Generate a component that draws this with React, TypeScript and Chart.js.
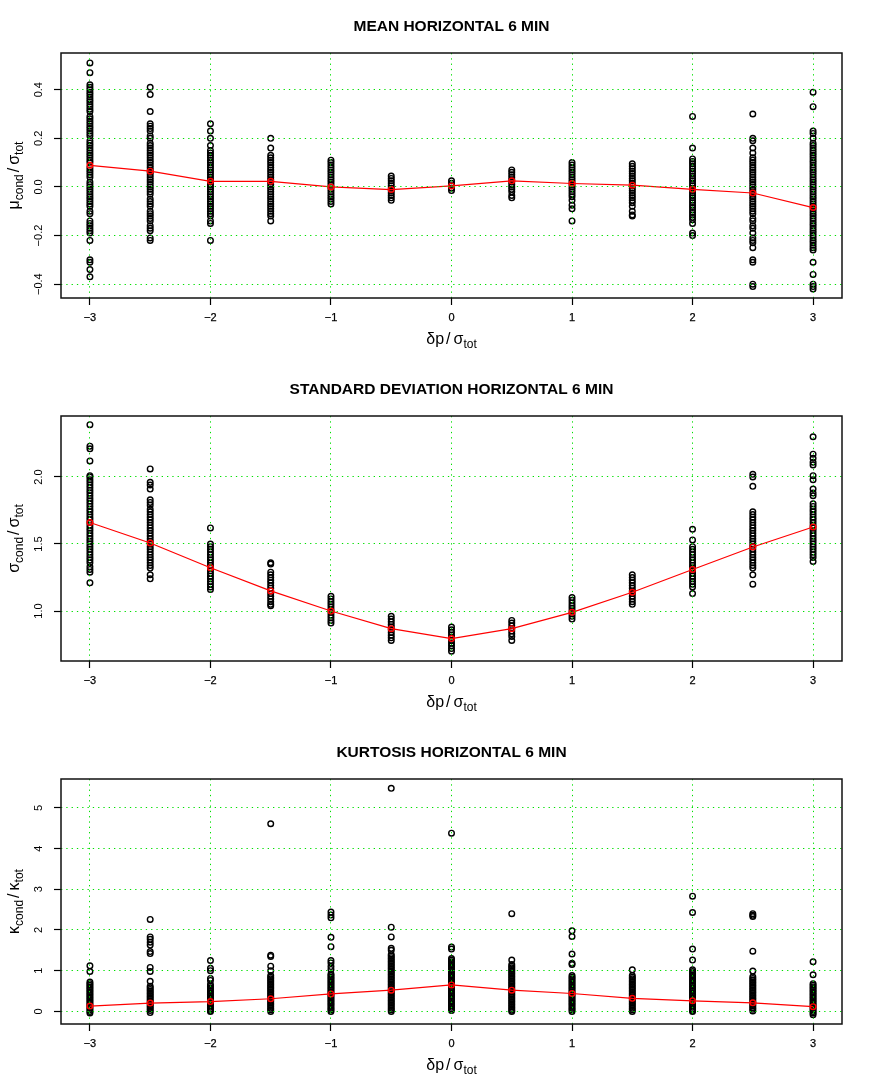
import React, { useEffect, useRef } from "react";
import { Chart, registerables } from "chart.js";

Chart.register(...registerables);

// ---------- shared axis data ----------
const xPositions = [-3, -2.5, -2, -1.5, -1, -0.5, 0, 0.5, 1, 1.5, 2, 2.5, 3];
const xTickValues = [-3, -2, -1, 0, 1, 2, 3];
const xTickLabels = ["\u22123", "\u22122", "\u22121", "0", "1", "2", "3"];

// ---------- panel 1: mean ----------
const meanCols: number[][] = [
  [0.51, 0.47, 0.42, 0.41, 0.4, 0.39, 0.38, 0.37, 0.36, 0.35, 0.34, 0.33, 0.32, 0.31, 0.29, 0.28, 0.27, 0.26, 0.25, 0.24, 0.23, 0.22, 0.21, 0.19, 0.18, 0.17, 0.16, 0.15, 0.14, 0.13, 0.12, 0.11, 0.1, 0.08, 0.07, 0.06, 0.05, 0.04, 0.02, 0.01, 0.0, -0.01, -0.02, -0.03, -0.04, -0.05, -0.06, -0.07, -0.08, -0.1, -0.11, -0.14, -0.15, -0.16, -0.17, -0.18, -0.19, -0.22, -0.3, -0.31, -0.34, -0.37],
  [0.41, 0.38, 0.31, 0.26, 0.25, 0.24, 0.23, 0.21, 0.2, 0.18, 0.17, 0.16, 0.15, 0.14, 0.13, 0.12, 0.11, 0.1, 0.09, 0.08, 0.07, 0.06, 0.05, 0.04, 0.03, 0.02, 0.01, 0.0, -0.01, -0.02, -0.03, -0.05, -0.06, -0.07, -0.08, -0.1, -0.11, -0.12, -0.13, -0.14, -0.16, -0.17, -0.18, -0.21, -0.22],
  [0.26, 0.23, 0.2, 0.17, 0.15, 0.14, 0.13, 0.12, 0.11, 0.1, 0.09, 0.08, 0.07, 0.06, 0.05, 0.04, 0.03, 0.02, 0.01, 0.0, -0.01, -0.02, -0.03, -0.04, -0.05, -0.06, -0.07, -0.08, -0.09, -0.1, -0.11, -0.12, -0.14, -0.15, -0.22],
  [0.2, 0.16, 0.13, 0.12, 0.11, 0.1, 0.09, 0.08, 0.07, 0.06, 0.05, 0.04, 0.03, 0.02, 0.01, 0.0, -0.01, -0.02, -0.03, -0.04, -0.05, -0.06, -0.07, -0.08, -0.09, -0.1, -0.11, -0.12, -0.14],
  [0.11, 0.1, 0.09, 0.08, 0.07, 0.06, 0.05, 0.04, 0.03, 0.02, 0.01, 0.0, -0.01, -0.02, -0.03, -0.04, -0.05, -0.06, -0.07],
  [0.045, 0.035, 0.025, 0.015, 0.005, -0.005, -0.015, -0.025, -0.035, -0.045, -0.055],
  [0.025, 0.015, 0.005, -0.005, -0.015],
  [0.07, 0.06, 0.05, 0.04, 0.03, 0.02, 0.01, 0.0, -0.01, -0.02, -0.035, -0.045],
  [0.1, 0.09, 0.08, 0.07, 0.06, 0.05, 0.04, 0.03, 0.02, 0.01, 0.0, -0.01, -0.02, -0.03, -0.04, -0.055, -0.075, -0.09, -0.14],
  [0.095, 0.085, 0.075, 0.065, 0.055, 0.045, 0.035, 0.025, 0.015, 0.005, -0.005, -0.015, -0.025, -0.035, -0.045, -0.055, -0.065, -0.08, -0.1, -0.115, -0.12],
  [0.29, 0.16, 0.115, 0.105, 0.095, 0.085, 0.075, 0.065, 0.055, 0.045, 0.035, 0.025, 0.015, 0.005, -0.005, -0.015, -0.025, -0.035, -0.045, -0.055, -0.065, -0.075, -0.085, -0.095, -0.105, -0.115, -0.125, -0.135, -0.15, -0.19, -0.2],
  [0.3, 0.2, 0.19, 0.16, 0.14, 0.12, 0.11, 0.1, 0.09, 0.08, 0.07, 0.06, 0.05, 0.04, 0.03, 0.02, 0.01, 0.0, -0.01, -0.02, -0.03, -0.04, -0.05, -0.06, -0.07, -0.08, -0.09, -0.1, -0.11, -0.13, -0.14, -0.16, -0.17, -0.19, -0.21, -0.22, -0.23, -0.25, -0.3, -0.31, -0.4, -0.41],
  [0.39, 0.33, 0.23, 0.22, 0.2, 0.18, 0.17, 0.16, 0.15, 0.14, 0.13, 0.12, 0.11, 0.1, 0.09, 0.08, 0.07, 0.06, 0.05, 0.04, 0.03, 0.02, 0.01, 0.0, -0.01, -0.02, -0.03, -0.04, -0.05, -0.06, -0.07, -0.08, -0.09, -0.1, -0.11, -0.12, -0.13, -0.14, -0.15, -0.16, -0.17, -0.18, -0.19, -0.2, -0.21, -0.22, -0.23, -0.24, -0.25, -0.26, -0.31, -0.36, -0.4, -0.41, -0.42],
];
const meanAvg = [0.089, 0.065, 0.023, 0.023, 0.0, -0.011, 0.004, 0.025, 0.014, 0.007, -0.01, -0.025, -0.085];
const meanYTicks = [-0.4, -0.2, 0, 0.2, 0.4];
const meanYLabels = ["\u22120.4", "\u22120.2", "0.0", "0.2", "0.4"];

// ---------- panel 2: standard deviation ----------
const sdCols: number[][] = [
  [2.39, 2.23, 2.21, 2.12, 2.01, 2.0, 1.98, 1.96, 1.94, 1.92, 1.9, 1.88, 1.86, 1.84, 1.82, 1.8, 1.78, 1.76, 1.74, 1.72, 1.7, 1.68, 1.66, 1.64, 1.62, 1.6, 1.58, 1.56, 1.54, 1.52, 1.5, 1.48, 1.46, 1.44, 1.42, 1.4, 1.38, 1.36, 1.33, 1.31, 1.29, 1.21],
  [2.06, 1.96, 1.94, 1.91, 1.83, 1.81, 1.79, 1.76, 1.74, 1.72, 1.7, 1.68, 1.66, 1.64, 1.62, 1.6, 1.58, 1.56, 1.54, 1.52, 1.5, 1.48, 1.46, 1.44, 1.42, 1.4, 1.38, 1.36, 1.34, 1.32, 1.27, 1.24],
  [1.62, 1.5, 1.48, 1.46, 1.44, 1.42, 1.4, 1.38, 1.36, 1.34, 1.32, 1.3, 1.28, 1.26, 1.24, 1.22, 1.2, 1.18, 1.16],
  [1.36, 1.35, 1.29, 1.27, 1.25, 1.23, 1.21, 1.19, 1.17, 1.15, 1.13, 1.11, 1.09, 1.07, 1.05, 1.04],
  [1.11, 1.09, 1.07, 1.05, 1.03, 1.01, 0.99, 0.97, 0.95, 0.93, 0.91],
  [0.96, 0.94, 0.92, 0.9, 0.88, 0.86, 0.84, 0.82, 0.8, 0.78],
  [0.88, 0.86, 0.84, 0.82, 0.8, 0.78, 0.76, 0.74, 0.72, 0.7],
  [0.93, 0.91, 0.89, 0.87, 0.85, 0.83, 0.81, 0.78],
  [1.1, 1.08, 1.06, 1.04, 1.02, 1.0, 0.98, 0.96, 0.94],
  [1.27, 1.25, 1.23, 1.21, 1.19, 1.17, 1.15, 1.13, 1.11, 1.09, 1.07, 1.05],
  [1.61, 1.53, 1.48, 1.46, 1.44, 1.42, 1.4, 1.38, 1.36, 1.34, 1.32, 1.3, 1.28, 1.26, 1.24, 1.22, 1.2, 1.18, 1.13],
  [2.02, 2.0, 1.93, 1.74, 1.72, 1.7, 1.68, 1.66, 1.64, 1.62, 1.6, 1.58, 1.56, 1.54, 1.52, 1.5, 1.48, 1.46, 1.44, 1.42, 1.4, 1.38, 1.36, 1.34, 1.32, 1.27, 1.2],
  [2.3, 2.17, 2.14, 2.11, 2.09, 2.01, 1.98, 1.91, 1.88, 1.86, 1.8, 1.78, 1.76, 1.74, 1.72, 1.7, 1.68, 1.66, 1.64, 1.62, 1.6, 1.58, 1.56, 1.54, 1.52, 1.5, 1.48, 1.46, 1.44, 1.42, 1.4, 1.37],
];
const sdAvg = [1.66, 1.507, 1.323, 1.15, 1.0, 0.868, 0.794, 0.868, 0.99, 1.14, 1.31, 1.478, 1.627];
const sdYTicks = [1.0, 1.5, 2.0];
const sdYLabels = ["1.0", "1.5", "2.0"];

// ---------- panel 3: kurtosis ----------
const kurtCols: number[][] = [
  [1.12, 0.98, 0.72, 0.68, 0.64, 0.6, 0.56, 0.52, 0.48, 0.44, 0.4, 0.36, 0.32, 0.28, 0.24, 0.2, 0.16, 0.12, 0.08, 0.04, 0.0, -0.04],
  [2.26, 1.83, 1.77, 1.7, 1.63, 1.47, 1.42, 1.08, 0.98, 0.74, 0.62, 0.58, 0.54, 0.5, 0.46, 0.42, 0.38, 0.34, 0.3, 0.26, 0.22, 0.18, 0.14, 0.1, 0.06, 0.02, -0.03],
  [1.25, 1.06, 1.0, 0.81, 0.76, 0.66, 0.62, 0.58, 0.54, 0.5, 0.46, 0.42, 0.38, 0.34, 0.3, 0.26, 0.22, 0.18, 0.14, 0.1, 0.06, 0.02, 0.0],
  [4.61, 1.38, 1.35, 1.11, 1.0, 0.88, 0.84, 0.8, 0.76, 0.72, 0.68, 0.64, 0.6, 0.56, 0.52, 0.48, 0.44, 0.4, 0.36, 0.32, 0.28, 0.24, 0.2, 0.16, 0.12, 0.08, 0.04, 0.0],
  [2.44, 2.37, 2.3, 1.82, 1.59, 1.25, 1.19, 1.1, 1.03, 0.92, 0.88, 0.84, 0.8, 0.76, 0.72, 0.68, 0.64, 0.6, 0.56, 0.52, 0.48, 0.44, 0.4, 0.36, 0.32, 0.28, 0.24, 0.2, 0.16, 0.12, 0.08, 0.04, 0.0],
  [5.48, 2.07, 1.83, 1.55, 1.5, 1.4, 1.36, 1.32, 1.28, 1.24, 1.2, 1.16, 1.12, 1.08, 1.04, 1.0, 0.96, 0.92, 0.88, 0.84, 0.8, 0.76, 0.72, 0.68, 0.64, 0.6, 0.56, 0.52, 0.48, 0.44, 0.4, 0.36, 0.32, 0.28, 0.24, 0.2, 0.16, 0.12, 0.08, 0.04, 0.0],
  [4.38, 1.58, 1.53, 1.3, 1.26, 1.22, 1.18, 1.14, 1.1, 1.06, 1.02, 0.98, 0.94, 0.9, 0.86, 0.82, 0.78, 0.74, 0.7, 0.66, 0.62, 0.58, 0.54, 0.5, 0.46, 0.42, 0.38, 0.34, 0.3, 0.26, 0.22, 0.18, 0.14, 0.1, 0.06, 0.02],
  [2.4, 1.26, 1.15, 1.11, 1.07, 1.03, 0.99, 0.95, 0.91, 0.87, 0.83, 0.79, 0.75, 0.71, 0.67, 0.63, 0.59, 0.55, 0.51, 0.47, 0.43, 0.39, 0.35, 0.31, 0.27, 0.23, 0.19, 0.15, 0.11, 0.07, 0.03, 0.0],
  [1.98, 1.84, 1.41, 1.18, 1.15, 0.88, 0.84, 0.8, 0.76, 0.72, 0.68, 0.64, 0.6, 0.56, 0.52, 0.48, 0.44, 0.4, 0.36, 0.32, 0.28, 0.24, 0.2, 0.16, 0.12, 0.08, 0.04, 0.0],
  [1.02, 0.88, 0.84, 0.8, 0.76, 0.72, 0.68, 0.64, 0.6, 0.56, 0.52, 0.48, 0.44, 0.4, 0.36, 0.32, 0.28, 0.24, 0.2, 0.16, 0.12, 0.08, 0.04, 0.0],
  [2.83, 2.43, 1.53, 1.26, 1.02, 0.98, 0.94, 0.9, 0.86, 0.82, 0.78, 0.74, 0.7, 0.66, 0.62, 0.58, 0.54, 0.5, 0.46, 0.42, 0.38, 0.34, 0.3, 0.26, 0.22, 0.18, 0.14, 0.1, 0.06, 0.02, 0.0],
  [2.4, 2.36, 2.33, 1.48, 0.99, 0.85, 0.81, 0.77, 0.73, 0.69, 0.65, 0.61, 0.57, 0.53, 0.49, 0.45, 0.41, 0.37, 0.33, 0.29, 0.25, 0.21, 0.17, 0.13, 0.09, 0.05, 0.01],
  [1.22, 0.9, 0.68, 0.64, 0.6, 0.56, 0.52, 0.48, 0.44, 0.4, 0.36, 0.32, 0.28, 0.24, 0.2, 0.16, 0.12, 0.08, 0.04, 0.0, -0.04, -0.08],
];
const kurtAvg = [0.13, 0.205, 0.24, 0.31, 0.43, 0.52, 0.65, 0.52, 0.44, 0.32, 0.26, 0.21, 0.115];
const kurtYTicks = [0, 1, 2, 3, 4, 5];
const kurtYLabels = ["0", "1", "2", "3", "4", "5"];

// ---------- text ----------
type Part = { t: string; sub?: boolean; gapL?: number; gapR?: number };
const xTitleParts: Part[] = [{ t: "\u03b4p" }, { t: "/", gapL: 2, gapR: 3 }, { t: "\u03c3" }, { t: "tot", sub: true }];

interface PanelCfg {
  title: string;
  yTitle: Part[];
  cols: number[][];
  avg: number[];
  yMin: number;
  yMax: number;
  yTicks: number[];
  yLabels: string[];
}

const panels: PanelCfg[] = [
  {
    title: "MEAN HORIZONTAL 6 MIN",
    yTitle: [{ t: "\u03bc" }, { t: "cond", sub: true }, { t: "/", gapL: 2, gapR: 3 }, { t: "\u03c3" }, { t: "tot", sub: true }],
    cols: meanCols, avg: meanAvg, yMin: -0.457, yMax: 0.551, yTicks: meanYTicks, yLabels: meanYLabels,
  },
  {
    title: "STANDARD DEVIATION HORIZONTAL 6 MIN",
    yTitle: [{ t: "\u03c3" }, { t: "cond", sub: true }, { t: "/", gapL: 2, gapR: 3 }, { t: "\u03c3" }, { t: "tot", sub: true }],
    cols: sdCols, avg: sdAvg, yMin: 0.627, yMax: 2.455, yTicks: sdYTicks, yLabels: sdYLabels,
  },
  {
    title: "KURTOSIS HORIZONTAL 6 MIN",
    yTitle: [{ t: "\u03ba" }, { t: "cond", sub: true }, { t: "/", gapL: 2, gapR: 3 }, { t: "\u03ba" }, { t: "tot", sub: true }],
    cols: kurtCols, avg: kurtAvg, yMin: -0.31, yMax: 5.71, yTicks: kurtYTicks, yLabels: kurtYLabels,
  },
];

const FONT = '"Liberation Sans", Arial, Helvetica, sans-serif';
const CANVAS_W = 872;
const CANVAS_H = 363;

function drawRich(ctx: CanvasRenderingContext2D, parts: Part[], x: number, y: number, rot: number) {
  ctx.save();
  ctx.translate(x, y);
  ctx.rotate(rot);
  ctx.textAlign = "left";
  ctx.textBaseline = "alphabetic";
  const fontFor = (p: Part) => (p.sub ? `12px ${FONT}` : `16px ${FONT}`);
  let total = 0;
  parts.forEach((p) => {
    ctx.font = fontFor(p);
    total += (p.gapL || 0) + ctx.measureText(p.t).width + (p.gapR || 0);
  });
  let cx = -total / 2;
  parts.forEach((p) => {
    ctx.font = fontFor(p);
    cx += p.gapL || 0;
    ctx.fillText(p.t, cx, p.sub ? 4 : 0);
    cx += ctx.measureText(p.t).width + (p.gapR || 0);
  });
  ctx.restore();
}

function Panel({ cfg }: { cfg: PanelCfg }) {
  const ref = useRef<HTMLCanvasElement | null>(null);
  useEffect(() => {
    if (!ref.current) return;
    const points: { x: number; y: number }[] = [];
    cfg.cols.forEach((col, i) => col.forEach((v) => points.push({ x: xPositions[i], y: v })));
    const avgPts = cfg.avg.map((v, i) => ({ x: xPositions[i], y: v }));

    const decor = {
      id: "decor",
      afterDraw(chart: any) {
        const { ctx, chartArea: a, scales } = chart;
        ctx.save();
        ctx.strokeStyle = "#111";
        ctx.lineWidth = 1.5;
        ctx.strokeRect(a.left, a.top, a.right - a.left, a.bottom - a.top);
        ctx.fillStyle = "#000";
        ctx.strokeStyle = "#000";
        ctx.lineWidth = 0.25;
        ctx.font = `11px ${FONT}`;
        ctx.textAlign = "center";
        ctx.textBaseline = "middle";
        xTickValues.forEach((v, i) => {
          const px = scales.x.getPixelForValue(v);
          ctx.fillText(xTickLabels[i], px, a.bottom + 19.5);
          ctx.strokeText(xTickLabels[i], px, a.bottom + 19.5);
        });
        cfg.yTicks.forEach((v, i) => {
          const py = scales.y.getPixelForValue(v);
          ctx.save();
          ctx.translate(a.left - 22.5, py);
          ctx.rotate(-Math.PI / 2);
          ctx.fillText(cfg.yLabels[i], 0, 0);
          ctx.restore();
        });
        ctx.font = `bold 15.5px ${FONT}`;
        ctx.fillText(cfg.title, (a.left + a.right) / 2, 26.5);
        drawRich(ctx, xTitleParts, (a.left + a.right) / 2, 344, 0);
        drawRich(ctx, cfg.yTitle, 19, (a.top + a.bottom) / 2, -Math.PI / 2);
        ctx.restore();
      },
    };

    const chart = new Chart(ref.current, {
      type: "scatter",
      data: {
        datasets: [
          {
            data: avgPts,
            showLine: true,
            borderColor: "#ff0000",
            borderWidth: 1.2,
            pointRadius: 2.8,
            pointBorderColor: "#ff0000",
            pointBackgroundColor: "rgba(0,0,0,0)",
            pointBorderWidth: 1.4,
          },
          {
            data: points,
            showLine: false,
            pointRadius: 2.8,
            pointBorderColor: "#000",
            pointBackgroundColor: "rgba(0,0,0,0)",
            pointBorderWidth: 1.4,
          },
        ],
      },
      options: {
        responsive: false,
        animation: false,
        events: [],
        layout: { padding: { top: 53, right: 30, left: 0, bottom: 0 } },
        plugins: { legend: { display: false }, tooltip: { enabled: false }, title: { display: false } },
        scales: {
          x: {
            type: "linear",
            min: -3.24,
            max: 3.24,
            afterBuildTicks: (s: any) => {
              s.ticks = xTickValues.map((v) => ({ value: v }));
            },
            afterFit: (s: any) => {
              s.height = 65;
            },
            ticks: { display: false },
            border: { display: false, dash: [1.3, 4] },
            grid: {
              z: 1,
              color: "#00e000",
              lineWidth: 1,
              drawTicks: true,
              tickLength: 7,
              tickColor: "#000",
              tickWidth: 1.2,
              tickBorderDash: [],
            },
          },
          y: {
            type: "linear",
            min: cfg.yMin,
            max: cfg.yMax,
            afterBuildTicks: (s: any) => {
              s.ticks = cfg.yTicks.map((v) => ({ value: v }));
            },
            afterFit: (s: any) => {
              s.width = 61;
            },
            ticks: { display: false },
            border: { display: false, dash: [1.3, 4] },
            grid: {
              z: 1,
              color: "#00e000",
              lineWidth: 1,
              drawTicks: true,
              tickLength: 7,
              tickColor: "#000",
              tickWidth: 1.2,
              tickBorderDash: [],
            },
          },
        },
      },
      plugins: [decor],
    } as any);
    return () => chart.destroy();
  }, [cfg]);
  return <canvas ref={ref} width={CANVAS_W} height={CANVAS_H} style={{ display: "block", width: CANVAS_W, height: CANVAS_H }} />;
}

export default function App() {
  return (
    <div style={{ position: "absolute", left: 0, top: 0, width: CANVAS_W, height: 1090, background: "#fff" }}>
      {panels.map((p, i) => (
        <Panel key={i} cfg={p} />
      ))}
    </div>
  );
}
